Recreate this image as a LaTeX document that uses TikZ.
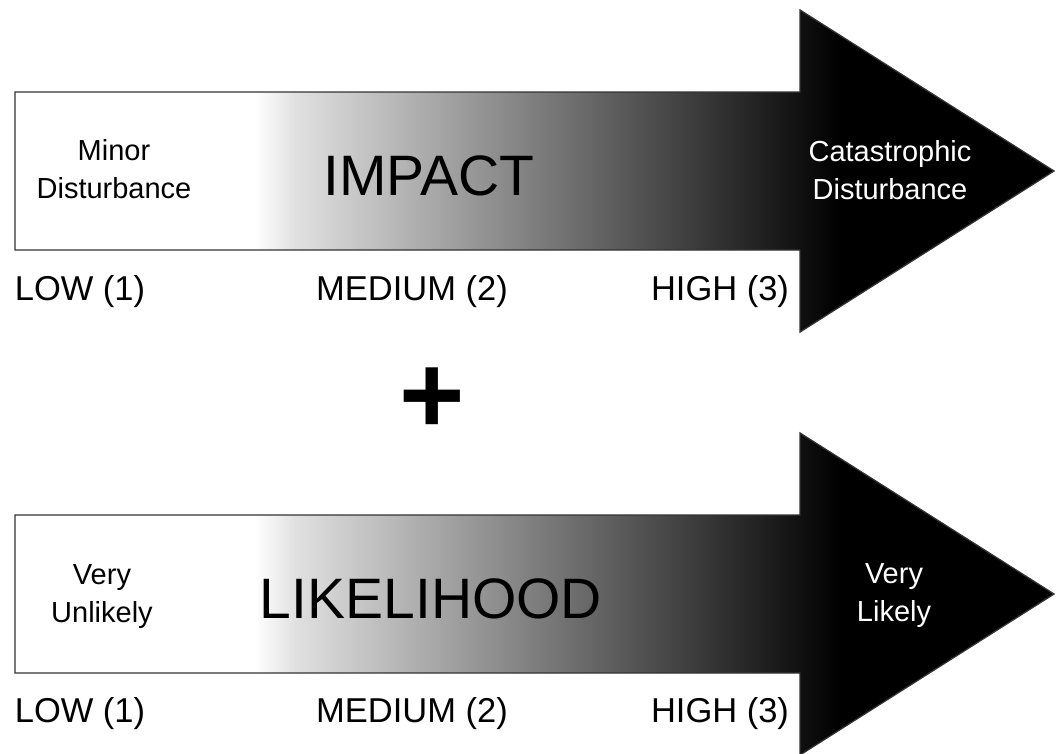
\documentclass[tikz,border=0pt]{standalone}
\usepackage{fontspec}
\setmainfont{Liberation Sans}

\begin{document}
\begin{tikzpicture}[x=1pt,y=-1pt,
    label/.style={anchor=base,font=\fontsize{34.5}{40}\selectfont},
    title/.style={anchor=base,font=\fontsize{57}{60}\selectfont},
    note/.style={anchor=base,align=center,font=\fontsize{29}{38}\selectfont}]
  \useasboundingbox (0,0) rectangle (1056,753);
  % the two shaded arrows
  \foreach \yc in {171,594} {
    \begin{scope}
      \clip (15,\yc-79) -- (800,\yc-79) -- (800,\yc-161) -- (1054,\yc)
        -- (800,\yc+161) -- (800,\yc+79) -- (15,\yc+79) -- cycle;
      \fill[white] (0,\yc-170) rectangle (256,\yc+170);
      \shade[left color=white,right color=white!88!black]
        (255,\yc-170) rectangle (296,\yc+170);
      \shade[left color=white!88!black,right color=black]
        (295,\yc-170) rectangle (840,\yc+170);
      \fill[black] (839,\yc-170) rectangle (1056,\yc+170);
    \end{scope}
    \draw[black!80,line width=1.3pt] (15,\yc-79) -- (800,\yc-79) -- (800,\yc-161)
      -- (1054,\yc) -- (800,\yc+161) -- (800,\yc+79) -- (15,\yc+79) -- cycle;
  }
  % impact
  \node[note] (minor) at (114,198) {Minor\\Disturbance};
  \node[title] (impact) at (429,195) {IMPACT};
  \node[note,text=white] (catastrophic) at (890,199) {Catastrophic\\Disturbance};
  \node[label] (lowimp) at (80,300) {LOW (1)};
  \node[label] (medimp) at (412,300) {MEDIUM (2)};
  \node[label] (highimp) at (720,300) {HIGH (3)};
  \node[font=\bfseries\fontsize{112}{112}\selectfont] (plus) at (432,401) {+};
  % likelihood
  \node[note] (unlikely) at (102,622) {Very\\Unlikely};
  \node[title] (likelihood) at (431,618) {LIKELIHOOD};
  \node[note,text=white] (likely) at (894,621) {Very\\Likely};
  \node[label] (lowlik) at (80,722) {LOW (1)};
  \node[label] (medlik) at (412,722) {MEDIUM (2)};
  \node[label] (highlik) at (720,722) {HIGH (3)};
\end{tikzpicture}
\end{document}
